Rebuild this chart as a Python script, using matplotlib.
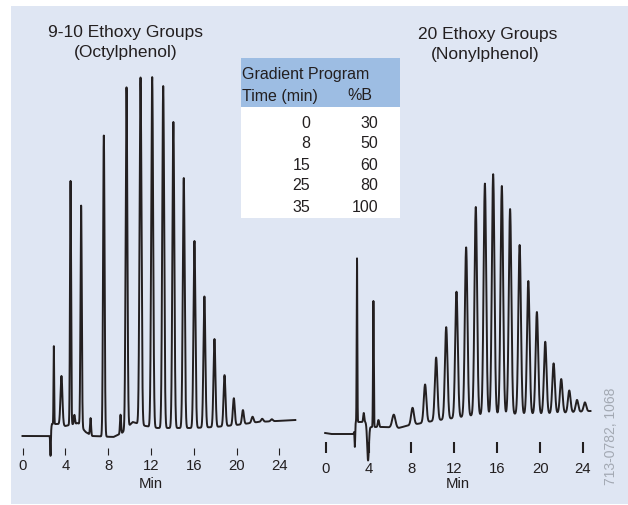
import numpy as np
import matplotlib
matplotlib.use('Agg')
import matplotlib.pyplot as plt
from matplotlib.patches import Rectangle

plt.rcParams['font.family'] = ['Liberation Sans', 'DejaVu Sans']

W, H = 628, 505
BG = '#dfe6f3'
INK = '#231f20'

# x ticks (min)
ticks = [0, 4, 8, 12, 16, 20, 24]

# octylphenol trace: baseline points and peaks (time, height, width)
oct_base_t = [0.0, 2.55, 2.75, 3.3, 4.0, 5.2, 5.9, 6.5, 8.5, 9.3, 10.3, 11.5, 12.6, 16.0, 18.0, 20.0, 22.0, 25.5]
oct_base_s = [0, 0, 12, 12, 10, 13, 4, 0, -1, 3, 14, 10, 8, 8, 9, 11, 14, 16]
oct_peak_t = [2.62, 2.93, 3.64, 4.49, 4.85, 5.48, 6.36, 7.6, 9.16, 9.72, 11.03, 12.12, 13.15,
              14.1, 15.07, 16.07, 17.0, 17.94, 18.88, 19.75, 20.6, 21.5, 22.4, 23.3]
oct_peak_h = [-24, 78, 49, 244, 9, 221, 17, 301, 19, 341, 347, 350, 342,
              306, 250, 187, 131, 88, 51, 27, 14, 6, 3, 2]
oct_peak_w = [0.03, 0.03, 0.09, 0.05, 0.05, 0.06, 0.05, 0.07, 0.05, 0.08, 0.09, 0.09, 0.09,
              0.09, 0.09, 0.09, 0.09, 0.09, 0.09, 0.09, 0.09, 0.1, 0.1, 0.1]

# nonylphenol trace
non_base_t = [-0.05, 0.5, 2.6, 2.8, 3.7, 4.2, 5.5, 6.8, 7.5, 8.5, 10.0, 12.0, 14.0, 16.0, 18.0, 20.0, 22.0, 24.7]
non_base_s = [3, 2, 2, 14, 14, 9, 9, 8, 10, 12, 15, 18, 21, 22, 22, 22, 23, 25]
non_peak_t = [2.72, 2.92, 3.55, 3.95, 4.45, 4.92, 6.35, 8.1, 9.27, 10.3, 11.24, 12.2, 13.1,
              14.0, 14.85, 15.62, 16.43, 17.2, 18.09, 18.9, 19.7, 20.48, 21.26, 21.97,
              22.72, 23.44, 24.18]
non_peak_h = [-20, 164, 9, -36, 126, 7, 13, 17, 38, 63, 92, 126, 169,
              208, 231, 240, 228, 205, 169, 133, 102, 72, 50, 34,
              22, 12, 9]
non_peak_w = [0.03, 0.03, 0.05, 0.08, 0.035, 0.06, 0.15, 0.13, 0.12, 0.12, 0.12, 0.12, 0.12,
              0.12, 0.12, 0.12, 0.12, 0.12, 0.12, 0.12, 0.12, 0.12, 0.12, 0.12,
              0.12, 0.12, 0.12]

# gradient program table
grad_time = [0, 8, 15, 25, 35]
grad_b = [30, 50, 60, 80, 100]


def trace(t0, t1, bt, bs, pt, ph, pw):
    t = np.arange(t0, t1, 0.004)
    y = np.interp(t, bt, bs)
    for c, h, w in zip(pt, ph, pw):
        y = y + h * np.exp(-0.5 * ((t - c) / w) ** 2)
    return t, y


def px_axes(fig, x0, x1, y0, y1):
    return fig.add_axes([x0 / W, 1 - y1 / H, (x1 - x0) / W, (y1 - y0) / H])


fig = plt.figure(figsize=(W / 100, H / 100), dpi=100)

# background panel, titles and table in pixel coordinates
bg = px_axes(fig, 0, W, 0, H)
bg.set_xlim(0, W)
bg.set_ylim(H, 0)
bg.axis('off')
bg.add_patch(Rectangle((11, 6), W - 11, 498, color=BG, lw=0))
bg.add_patch(Rectangle((241, 58), 159, 49, color='#9dbde3', lw=0))
bg.add_patch(Rectangle((241, 107), 159, 111, color='white', lw=0))
bg.text(242, 75, 'Gradient Program', fontsize=11.5, color=INK, va='center', ha='left')
bg.text(242, 96, 'Time (min)', fontsize=11.5, color=INK, va='center', ha='left')
bg.text(372, 96, '%B', fontsize=11.5, color=INK, va='center', ha='right')
for i, (tm, b) in enumerate(zip(grad_time, grad_b)):
    bg.text(310, 123 + 21 * i, str(tm), fontsize=11.5, color=INK, va='center', ha='right')
    bg.text(378, 123 + 21 * i, str(b), fontsize=11.5, color=INK, va='center', ha='right')

bg.text(126, 32, '9-10 Ethoxy Groups', fontsize=12.5, color=INK, ha='center', va='center')
bg.text(126, 53, '(Octylphenol)', fontsize=12.5, color=INK, ha='center', va='center')
bg.text(488, 34, '20 Ethoxy Groups', fontsize=12.5, color=INK, ha='center', va='center')
bg.text(485, 55, '(Nonylphenol)', fontsize=12.5, color=INK, ha='center', va='center')
bg.text(611, 436, '713-0782, 1068', fontsize=10, color='#a3a9b3', rotation=90,
        ha='center', va='center')

# chromatograms
setups = [
    (11, 300, 22.5, 10.7, (0.0, 25.5, oct_base_t, oct_base_s, oct_peak_t, oct_peak_h, oct_peak_w),
     -19, 5.0, 0.8, 2.6, 12.0),
    (314, 604, 325.7, 10.72, (-0.05, 24.7, non_base_t, non_base_s, non_peak_t, non_peak_h, non_peak_w),
     -17, 8.0, 1.5, 6.2, 12.3),
]
for x0, x1, zero_px, ppm, tr, spine_s, tlen, twid, tpad, min_x in setups:
    ax = px_axes(fig, x0, x1, 60, 470)
    ax.set_xlim((x0 - zero_px) / ppm, (x1 - zero_px) / ppm)
    ax.set_ylim(436 - 470, 436 - 60)
    ax.patch.set_alpha(0)
    t, s = trace(*tr)
    ax.plot(t, s, color=INK, lw=1.4, solid_joinstyle='round')
    for side in ['top', 'right', 'left', 'bottom']:
        ax.spines[side].set_visible(False)
    ax.spines['bottom'].set_position(('data', spine_s))
    ax.set_yticks([])
    ax.set_xticks(ticks)
    ax.tick_params(axis='x', direction='in', length=tlen, width=twid, color=INK,
                   pad=tpad, labelsize=10.7, labelcolor=INK)
    ax.text(min_x, 436 - 484, 'Min', fontsize=10.7, color=INK, ha='center', va='center')

fig.savefig('out.png', dpi=100)
